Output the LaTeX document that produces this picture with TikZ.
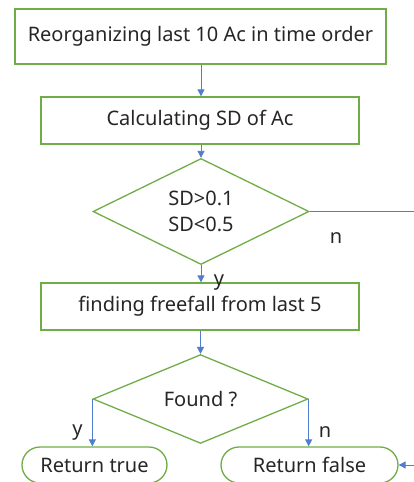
\documentclass[tikz,border=0pt]{standalone}
\usepackage{fontspec}
\setmainfont{Noto Sans}
\usetikzlibrary{shapes.geometric,arrows.meta}
\definecolor{boxgreen}{RGB}{112,173,71}
\definecolor{lineblue}{RGB}{80,125,205}
\tikzset{
  txt/.style={font=\fontsize{20}{26}\selectfont,text=black!85},
  box/.style={txt,draw=boxgreen,line width=1.3pt,rectangle,inner sep=0pt},
  dec/.style={txt,draw=boxgreen,line width=1.3pt,diamond,inner sep=0pt,align=center},
  term/.style={txt,draw=boxgreen,line width=1.3pt,rectangle,rounded corners=18pt,inner sep=0pt},
  conn/.style={draw=lineblue,line width=0.9pt,-{Triangle[length=7pt,width=7pt]}},
  plain/.style={draw=lineblue,line width=0.9pt},
  lbl/.style={txt,inner sep=0pt}
}
\begin{document}
\begin{tikzpicture}[x=1pt,y=-1pt]
\useasboundingbox (0,0) rectangle (414,482);
\node[box,minimum width=371pt,minimum height=55pt] (b1) at (200.5,36.5) {Reorganizing last 10 Ac in time order};
\node[box,minimum width=318pt,minimum height=47pt] (b2) at (200,120.5) {Calculating SD of Ac};
\node[dec,minimum width=216pt,minimum height=69pt] (d1) at (201,211.5) {SD>0.1\\SD<0.5};
\node[box,minimum width=318pt,minimum height=47pt] (b3) at (200,306.5) {finding freefall from last 5};
\node[dec,minimum width=215pt,minimum height=66pt] (d2) at (200.5,399) {Found ?};
\node[term,minimum width=145pt,minimum height=36pt] (rt) at (94.5,465) {Return true};
\node[term,minimum width=177pt,minimum height=36pt] (rf) at (309.5,465) {Return false};
\coordinate (r1) at (414,211.5);
\coordinate (r2) at (414,465);
\draw[conn] (b1.south -| d1.north) -- (b2.north -| d1.north);
\draw[conn] (b2.south -| d1.north) -- (d1.north);
\draw[conn] (d1.south) -- (b3.north -| d1.south);
\draw[conn] (b3.south -| d2.north) -- (d2.north);
\draw[plain] (d1.east) -- (r1);
\draw[conn] (d2.west) -- (d2.west |- rt.north);
\draw[conn] (d2.east) -- (d2.east |- rf.north);
\draw[conn] (r2) -- (rf.east);
\node[lbl] (n1) at (336,238) {n};
\node[lbl] (y1) at (219,283) {y};
\node[lbl] (y2) at (77.5,432.5) {y};
\node[lbl] (n2) at (325,432) {n};
\end{tikzpicture}
\end{document}
